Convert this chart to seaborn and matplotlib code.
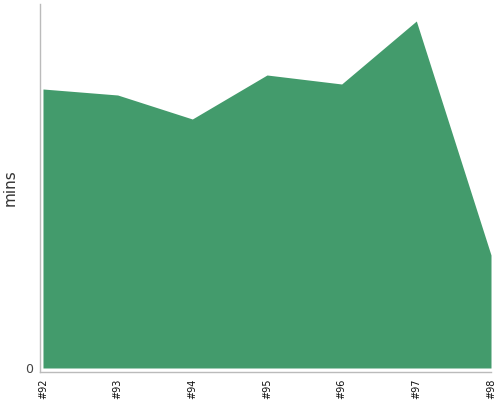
import matplotlib
matplotlib.use("Agg")
import matplotlib.pyplot as plt
import seaborn as sns
import numpy as np

# build labels and duration in minutes
builds = ["#92", "#93", "#94", "#95", "#96", "#97", "#98"]
mins = [27.9, 27.3, 24.9, 29.3, 28.4, 34.7, 11.3]
y_ticks = [0]

sns.set_style("white")
plt.rcParams['font.family'] = ['DejaVu Sans']

fig = plt.figure(figsize=(5, 4), dpi=100)
ax = fig.add_axes([0.08, 0.07, 0.902, 0.92])

x = np.arange(len(builds))
ax.fill_between(x, mins, 0, color="#439b6c", linewidth=0)

ax.set_xlim(-0.04, len(builds) - 1)
ax.set_ylim(-0.4, 36.4)
ax.set_xticks(x)
ax.set_xticklabels(builds, rotation=90, fontsize=7, color="#111111")
ax.set_yticks(y_ticks)
ax.set_yticklabels([str(v) for v in y_ticks], fontsize=9, color="#444444")
ax.set_ylabel("mins", fontsize=11, color="#333333", labelpad=5)

for side in ["top", "right"]:
    ax.spines[side].set_visible(False)
for side in ["left", "bottom"]:
    ax.spines[side].set_color("#bbbbbb")
    ax.spines[side].set_linewidth(1)
ax.tick_params(axis="both", length=3, width=1, color="#bbbbbb", pad=2)

fig.savefig("out.png", dpi=100)
plt.close(fig)
